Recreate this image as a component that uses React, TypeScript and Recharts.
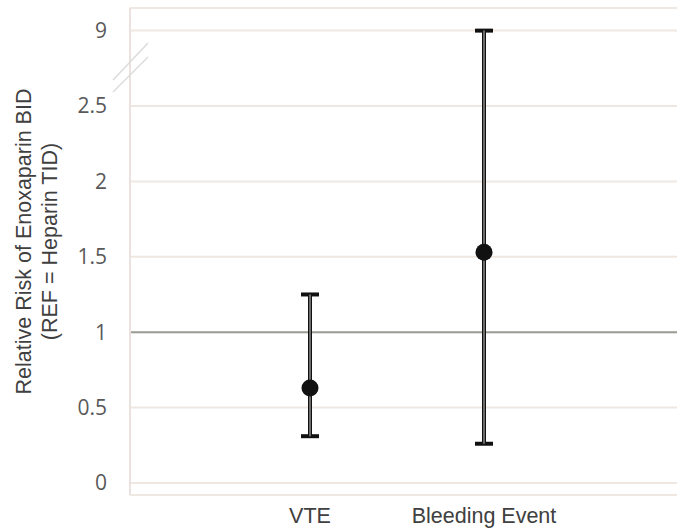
import React from "react";
import {
  ComposedChart,
  Line,
  ErrorBar,
  XAxis,
  YAxis,
  CartesianGrid,
  ReferenceLine,
} from "recharts";

const categories = ["VTE", "Bleeding Event"];
const relativeRisk = [0.63, 1.53];
const ciLower = [0.31, 0.26];
const ciUpper = [1.25, 9];

// y axis has a break between 2.5 and 9
const yTickValues = [0, 0.5, 1, 1.5, 2, 2.5, 9];

const BREAK_FROM = 2.5;
const BREAK_TO = 9;
const squash = (v: number) =>
  v <= BREAK_FROM ? v : BREAK_FROM + ((v - BREAK_FROM) * 0.5) / (BREAK_TO - BREAK_FROM);

const data = categories.map((name, i) => {
  const y = squash(relativeRisk[i]);
  return {
    name,
    rr: y,
    err: [y - squash(ciLower[i]), squash(ciUpper[i]) - y],
  };
});

const yTicks = yTickValues.map(squash);
const tickLabel = (v: number) => {
  const i = yTicks.findIndex((t) => Math.abs(t - v) < 1e-6);
  return i >= 0 ? String(yTickValues[i]) : "";
};

const YTitle = (props: any) => {
  const vb = props.viewBox || {};
  const cx = 31;
  const cy = vb.y + vb.height / 2 - 10;
  return (
    <text
      x={cx}
      y={cy}
      transform={`rotate(-90, ${cx}, ${cy})`}
      textAnchor="middle"
      fill="#404040"
      fontSize={21.5}
      fontFamily="'Liberation Sans', Arial, sans-serif"
    >
      <tspan x={cx} dy={0}>Relative Risk of Enoxaparin BID</tspan>
      <tspan x={cx} dy={26}>(REF = Heparin TID)</tspan>
    </text>
  );
};

export default function App() {
  return (
    <div style={{ position: "absolute", left: 0, top: 0, width: 677, height: 530, background: "#fff" }}>
      <ComposedChart
        width={677}
        height={530}
        data={data}
        margin={{ top: 8, right: 0, left: 0, bottom: 0 }}
      >
        <CartesianGrid horizontal vertical={false} stroke="#efe7e1" strokeWidth={2} />
        <XAxis
          dataKey="name"
          type="category"
          height={35}
          padding={{ left: 180, right: 193 }}
          axisLine={false}
          tickLine={false}
          tickMargin={7}
          tick={{ fill: "#404040", fontSize: 21.5, fontFamily: "'Liberation Sans', Arial, sans-serif" }}
        />
        <YAxis
          type="number"
          width={130}
          domain={[-0.08, 3.15]}
          allowDataOverflow
          ticks={yTicks}
          tickFormatter={tickLabel}
          axisLine={{ stroke: "#ebe1de", strokeWidth: 2 }}
          tickLine={false}
          tickMargin={17}
          tick={{ fill: "#595959", fontSize: 21, fontFamily: "'Open Sans', sans-serif" }}
          label={<YTitle />}
        />
        <ReferenceLine y={1} stroke="#9c9c96" strokeWidth={2} />
        <Line
          dataKey="rr"
          stroke="none"
          isAnimationActive={false}
          activeDot={false}
          dot={{ r: 8.5, fill: "#111", stroke: "#111", strokeWidth: 0 }}
        >
          <ErrorBar dataKey="err" direction="y" width={9} stroke="#111" strokeWidth={4} isAnimationActive={false} />
          <ErrorBar dataKey="err" direction="y" width={0} stroke="#777" strokeWidth={1.8} isAnimationActive={false} />
        </Line>
      </ComposedChart>
      <svg
        width={677}
        height={530}
        style={{ position: "absolute", left: 0, top: 0, pointerEvents: "none" }}
      >
        <line x1={113} y1={80} x2={148} y2={43} stroke="#dcdcdc" strokeWidth={1.5} />
        <line x1={113} y1={92} x2={148} y2={57} stroke="#dcdcdc" strokeWidth={1.5} />
      </svg>
    </div>
  );
}
